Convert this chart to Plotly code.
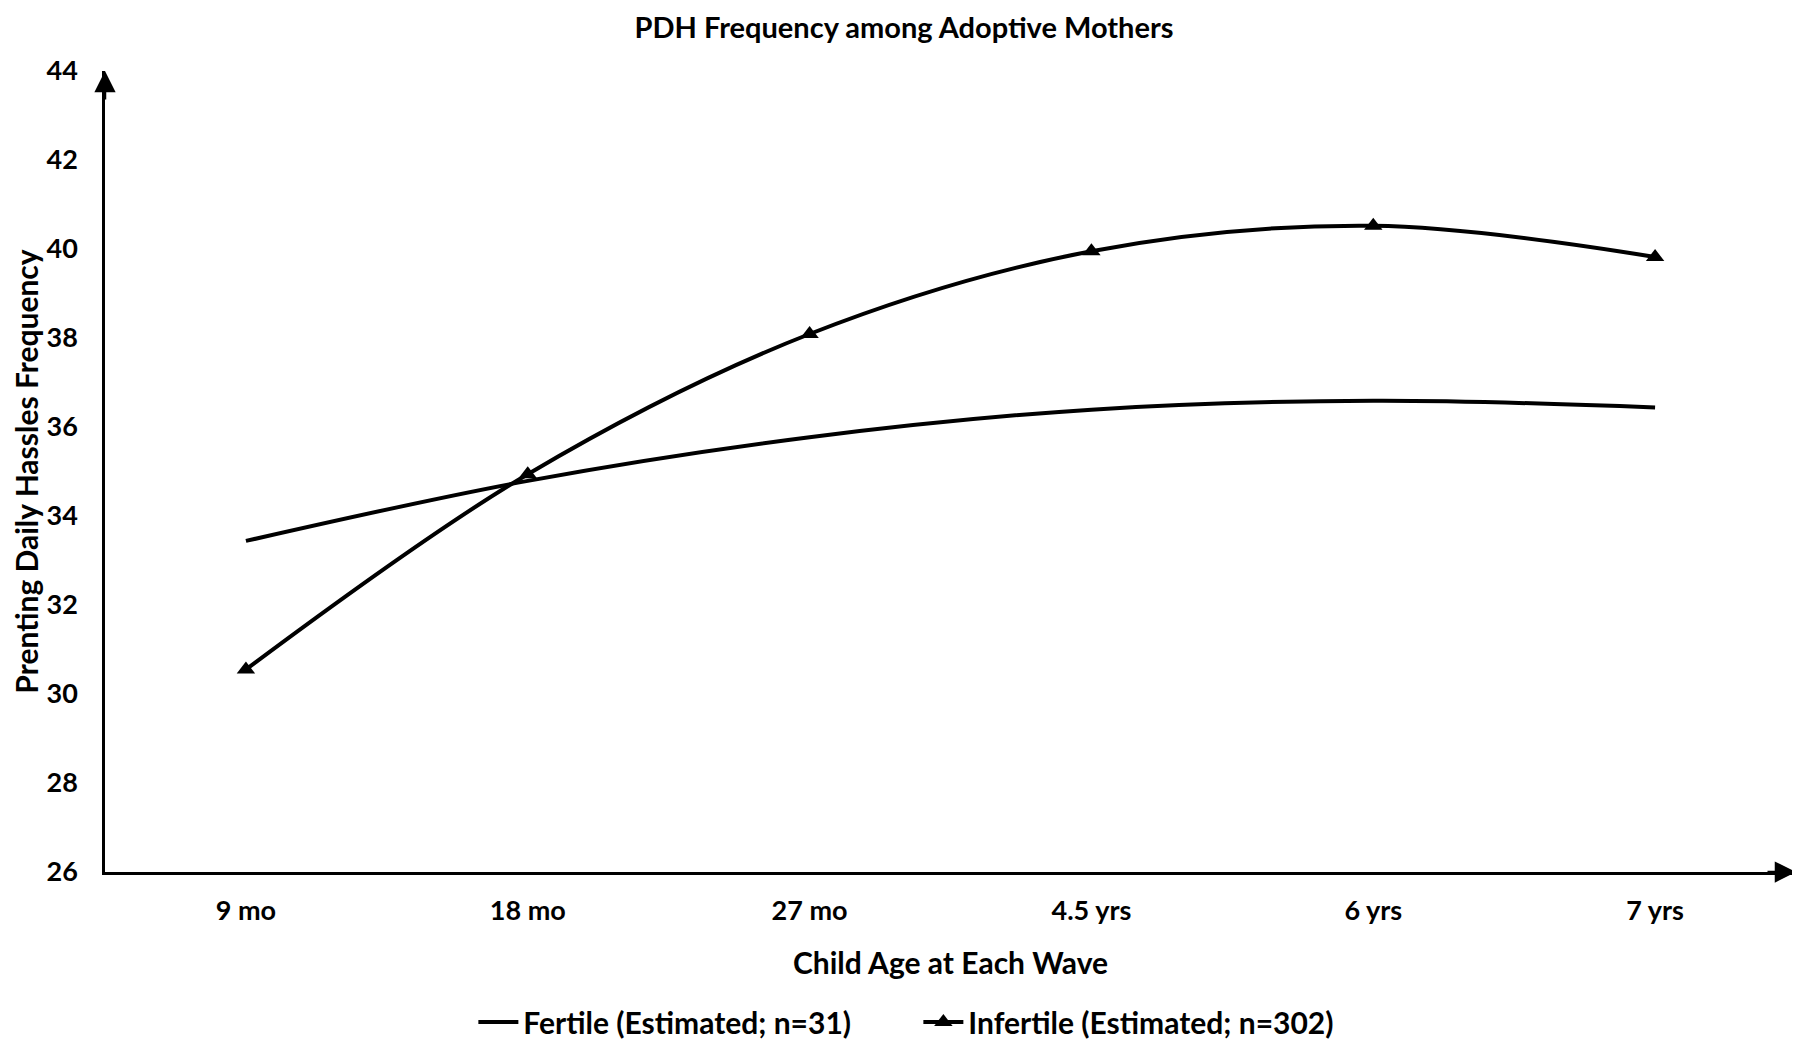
import plotly.graph_objects as go

ages = ["9 mo", "18 mo", "27 mo", "4.5 yrs", "6 yrs", "7 yrs"]
fertile = [33.44, 34.79, 35.77, 36.39, 36.59, 36.44]
infertile = [30.55, 34.94, 38.09, 39.95, 40.52, 39.82]
y_ticks = [26, 28, 30, 32, 34, 36, 38, 40, 42, 44]

FONT = "Lato"
OFF = 8  # page body margin offset
W, H = 1800 - OFF, 1043 - OFF
ML, MT = 105 - OFF, 71 - OFF
MR = W - (1796 - OFF)
MB = H - (872 - OFF)

fig = go.Figure()
fig.add_trace(go.Scatter(
    x=ages, y=fertile, mode="lines", name="Fertile (Estimated; n=31)",
    line=dict(color="black", width=4, shape="spline", smoothing=1.0),
))
fig.add_trace(go.Scatter(
    x=ages, y=infertile, mode="lines+markers", name="Infertile (Estimated; n=302)",
    line=dict(color="black", width=4, shape="spline", smoothing=1.0),
    marker=dict(symbol="triangle-up", size=16, color="black"),
))

fig.update_layout(
    width=W, height=H,
    margin=dict(l=ML, r=MR, t=MT, b=MB, autoexpand=False),
    paper_bgcolor="white", plot_bgcolor="white",
    font=dict(family=FONT, size=24, color="black", weight="bold"),
    title=dict(text="PDH Frequency among Adoptive Mothers", x=0.5, xanchor="center",
               y=1 - 20 / H, yanchor="middle", yref="container",
               font=dict(family=FONT, size=29, color="black", weight="bold")),
    showlegend=True,
    legend=dict(orientation="h", x=0.481, xanchor="center", yref="container",
                y=1 - (1022 - OFF) / H, yanchor="middle",
                font=dict(family=FONT, size=30, color="black", weight="bold"),
                itemwidth=40, tracegroupgap=0, entrywidth=390),
    xaxis=dict(
        type="category", range=[-0.5, 5.5], showgrid=False, zeroline=False,
        showline=True, linecolor="black", linewidth=2.5, ticks="",
        ticklabelstandoff=13, automargin=False,
        tickfont=dict(family=FONT, size=27, color="black", weight="bold"),
        title=dict(text="Child Age at Each Wave", standoff=28,
                   font=dict(family=FONT, size=30, color="black", weight="bold")),
    ),
    yaxis=dict(
        range=[26, 44], tickvals=y_ticks, showgrid=False, zeroline=False,
        showline=True, linecolor="black", linewidth=2.5, ticks="",
        ticklabelstandoff=19, automargin=False,
        tickfont=dict(family=FONT, size=27, color="black", weight="bold"),
        title=dict(text="Prenting Daily Hassles Frequency", standoff=14,
                   font=dict(family=FONT, size=30, color="black", weight="bold")),
    ),
)

# axis arrowheads
fig.add_annotation(x=0, y=1, xref="paper", yref="paper", ax=0, ay=30, text="",
                   showarrow=True, arrowhead=2, arrowsize=1.7, arrowwidth=2.5, arrowcolor="black")
fig.add_annotation(x=1, y=0, xref="paper", yref="paper", ax=-30, ay=0, text="",
                   showarrow=True, arrowhead=2, arrowsize=1.7, arrowwidth=2.5, arrowcolor="black")

fig.write_html("out.html")
